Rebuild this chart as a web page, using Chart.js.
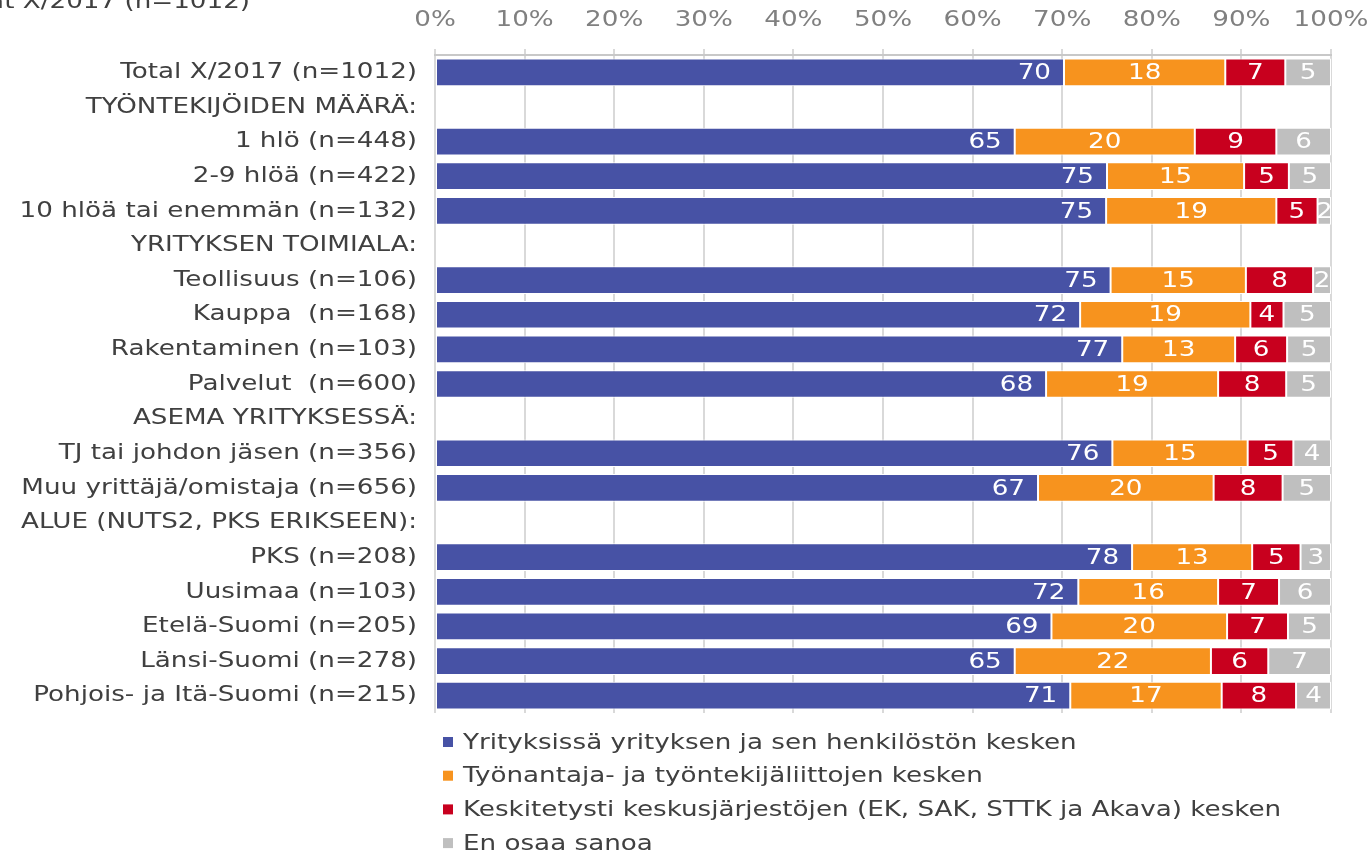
<!DOCTYPE html>
<html>
<head>
<meta charset="utf-8">
<script src="https://cdn.jsdelivr.net/npm/chart.js@4/dist/chart.umd.min.js"></script>
<style>
html,body{margin:0;padding:0;background:#fff;}
#wrap{width:1370px;height:855px;position:relative;}
</style>
</head>
<body>
<div id="wrap"><canvas id="c" width="1370" height="855"></canvas></div>
<script>
const categories = [
  "Total X/2017 (n=1012)",
  "TYÖNTEKIJÖIDEN MÄÄRÄ:",
  "1 hlö (n=448)",
  "2-9 hlöä (n=422)",
  "10 hlöä tai enemmän (n=132)",
  "YRITYKSEN TOIMIALA:",
  "Teollisuus (n=106)",
  "Kauppa  (n=168)",
  "Rakentaminen (n=103)",
  "Palvelut  (n=600)",
  "ASEMA YRITYKSESSÄ:",
  "TJ tai johdon jäsen (n=356)",
  "Muu yrittäjä/omistaja (n=656)",
  "ALUE (NUTS2, PKS ERIKSEEN):",
  "PKS (n=208)",
  "Uusimaa (n=103)",
  "Etelä-Suomi (n=205)",
  "Länsi-Suomi (n=278)",
  "Pohjois- ja Itä-Suomi (n=215)"
];
const seriesNames = [
  "Yrityksissä yrityksen ja sen henkilöstön kesken",
  "Työnantaja- ja työntekijäliittojen kesken",
  "Keskitetysti keskusjärjestöjen (EK, SAK, STTK ja Akava) kesken",
  "En osaa sanoa"
];
const yrityksissa = [70.2, null, 64.7, 75.0, 74.9, null, 75.4, 72.0, 76.7, 68.2, null, 75.6, 67.3, null, 77.8, 71.8, 68.8, 64.7, 70.9];
const liitot      = [18.0, null, 20.1, 15.3, 19.0, null, 15.1, 19.0, 12.6, 19.2, null, 15.1, 19.6, null, 13.4, 15.6, 19.6, 21.9, 16.9];
const keskitetysti= [6.7,  null, 9.1,  5.0,  4.6,  null, 7.5,  3.7,  5.8,  7.6,  null, 5.1,  7.7,  null, 5.4,  6.8,  6.8,  6.4,  8.3];
const eos         = [5.1,  null, 6.1,  4.7,  1.5,  null, 2.0,  5.3,  4.9,  5.0,  null, 4.2,  5.4,  null, 3.4,  5.8,  4.8,  7.0,  3.9];
const xTicks = [0,10,20,30,40,50,60,70,80,90,100];
const titleText = "Yrittäjägallup, vastaajat X/2017 (n=1012)";

const colors = ["#4752A5", "#F7931E", "#C8001E", "#BFBFBF"];
const FONT = "'DejaVu Sans', Verdana, sans-serif";
const FSIZE = 22;
const SX = 1.19; // horizontal text stretch seen in the reference

const canvas = document.getElementById('c');
const ctx0 = canvas.getContext('2d');
const origFill = ctx0.fillText.bind(ctx0);
ctx0.fillText = function(text, x, y) {
  this.save();
  this.translate(x, y);
  this.scale(SX, 1);
  origFill(text, 0, 0);
  this.restore();
};

const labelPlugin = {
  id: 'segLabels',
  afterDatasetsDraw(chart) {
    const ctx = chart.ctx;
    const ca = chart.chartArea;
    ctx.save();
    ctx.beginPath();
    ctx.rect(ca.left, ca.top, ca.right - ca.left, ca.bottom - ca.top);
    ctx.clip();
    ctx.font = FSIZE + "px " + FONT;
    ctx.fillStyle = "#ffffff";
    ctx.textBaseline = "middle";
    chart.data.datasets.forEach((ds, i) => {
      const meta = chart.getDatasetMeta(i);
      meta.data.forEach((bar, j) => {
        const v = ds.data[j];
        if (v == null) return;
        const p = bar.getProps(['x', 'y', 'base'], true);
        const txt = String(Math.round(v));
        if (i === 0) {
          ctx.textAlign = "right";
          ctx.fillText(txt, p.x - 13, p.y + 1);
        } else {
          ctx.textAlign = "center";
          ctx.fillText(txt, (p.x + p.base) / 2, p.y + 1);
        }
      });
    });
    ctx.restore();
  },
  afterDraw(chart) {
    const ctx = chart.ctx;
    ctx.save();
    ctx.font = FSIZE + "px " + FONT;
    ctx.fillStyle = "#404040";
    ctx.textAlign = "right";
    ctx.textBaseline = "alphabetic";
    ctx.fillText(titleText, 250, 8);
    const startY = 742, step = 33.7;
    chart.data.datasets.forEach((ds, i) => {
      const y = startY + i * step;
      ctx.fillStyle = ds.backgroundColor;
      ctx.fillRect(443, y - 5, 10, 10);
      ctx.fillStyle = "#404040";
      ctx.textAlign = "left";
      ctx.textBaseline = "middle";
      ctx.fillText(ds.label, 463, y + 1);
    });
    ctx.restore();
  }
};

const seriesData = [yrityksissa, liitot, keskitetysti, eos];
new Chart(canvas, {
  type: 'bar',
  data: {
    labels: categories,
    datasets: seriesData.map((d, i) => ({
      label: seriesNames[i],
      data: d,
      backgroundColor: colors[i],
      borderColor: "#ffffff",
      borderWidth: 1,
      borderSkipped: false,
      barPercentage: 0.8,
      categoryPercentage: 1.0
    }))
  },
  options: {
    indexAxis: 'y',
    responsive: false,
    animation: false,
    devicePixelRatio: 1,
    layout: { padding: { top: 0, right: 39, bottom: 142, left: 0 } },
    plugins: { legend: { display: false }, tooltip: { enabled: false } },
    scales: {
      x: {
        position: 'top',
        stacked: true,
        min: 0, max: 100,
        afterBuildTicks(scale) { scale.ticks = xTicks.map(v => ({ value: v })); },
        afterFit(scale) { scale.height = 55; scale.paddingRight = 0; scale.paddingLeft = 0; },
        ticks: {
          callback: v => v + '%',
          color: "#808080",
          font: { family: FONT, size: FSIZE },
          padding: 16,
          maxRotation: 0
        },
        grid: { color: "#D9D9D9", lineWidth: 2, tickLength: 6, drawTicks: true },
        border: { color: "#C8C8C8", width: 2 }
      },
      y: {
        stacked: true,
        afterFit(scale) { scale.width = 435; },
        ticks: {
          color: "#404040",
          font: { family: FONT, size: FSIZE },
          padding: 18,
          autoSkip: false
        },
        grid: { display: false, drawTicks: false },
        border: { display: false }
      }
    }
  },
  plugins: [labelPlugin]
});
</script>
</body>
</html>
